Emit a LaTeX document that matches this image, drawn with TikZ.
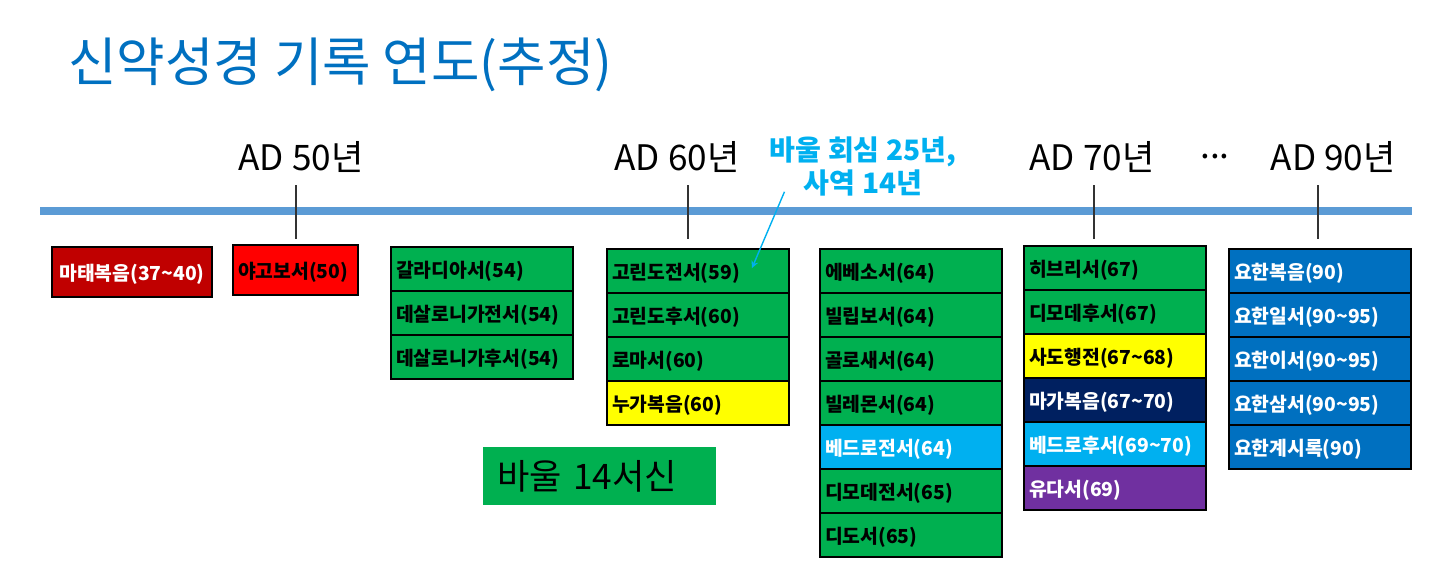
\documentclass[tikz,border=0pt]{standalone}
\usepackage{fontspec}
\setmainfont{Noto Sans CJK KR}
\usetikzlibrary{arrows}
\definecolor{titleblue}{HTML}{0070C0}
\definecolor{barblue}{HTML}{5B9BD5}
\definecolor{darkred}{HTML}{C00000}
\definecolor{brightred}{HTML}{FF0000}
\definecolor{paulgreen}{HTML}{00B050}
\definecolor{lukeyellow}{HTML}{FFFF00}
\definecolor{sky}{HTML}{00B0F0}
\definecolor{navy}{HTML}{002060}
\definecolor{judepurple}{HTML}{7030A0}
\definecolor{johnblue}{HTML}{0070C0}
\tikzstyle{book} = [
    rectangle,
    draw=black,
    line width=1pt,
    outer sep=0pt,
    minimum height=0.88cm,
    text width=3.44cm,
    text depth=0pt,
    inner xsep=0.1cm,
    align=left,
    font=\fontsize{11}{13}\selectfont\bfseries
]
\tikzstyle{greenbook} = [book, fill=paulgreen]
\tikzstyle{yellowbook} = [book, fill=lukeyellow]
\tikzstyle{skybook} = [book, fill=sky, text=white]
\tikzstyle{navybook} = [book, fill=navy, text=white]
\tikzstyle{purplebook} = [book, fill=judepurple, text=white]
\tikzstyle{johnbook} = [book, fill=johnblue, text=white]
\tikzstyle{year} = [font=\fontsize{20}{24}\selectfont]
\tikzstyle{pointer} = [draw=sky, line width=0.8pt, ->, >=stealth]

\begin{document}
\begin{tikzpicture}[node distance=0.88cm]
\useasboundingbox (0,0) rectangle (28.72,-11.48);

\node (title) [anchor=west, inner sep=0pt, text=titleblue,
  font=\fontsize{30}{36}\selectfont] at (1.36,-1.30)
{신약성경 기록 연도(추정)};

% timeline
\draw [barblue, line width=4.5pt] (0.8,-4.22) -- (28.24,-4.22);
\foreach \x in {5.92,13.76,21.88,26.36}
  \draw [black!80, line width=0.6pt] (\x,-3.70) -- (\x,-4.78);

\node (ad50) [year] at (6.02,-3.14) {AD 50년};
\node (ad60) [year] at (13.54,-3.14) {AD 60년};
\node (ad70) [year] at (21.84,-3.14) {AD 70년};
\node (dots) [year] at (24.30,-3.14) {...};
\node (ad90) [year] at (26.66,-3.14) {AD 90년};

\node (note) [inner sep=0pt, align=center, text=sky,
  font=\fontsize{16}{19}\selectfont\bfseries] at (17.26,-3.33)
{바울 회심 25년,\\사역 14년};

% before 50
\node (matt) [book, fill=darkred, text=white, anchor=north west,
  minimum height=1.0cm, text width=3.0cm, align=center] at (1.04,-4.94)
{마태복음(37\textasciitilde40)};
\node (jas) [book, fill=brightred, anchor=north west,
  minimum height=1.0cm, text width=2.3cm] at (4.66,-4.90)
{야고보서(50)};

% 54
\node (gal) [greenbook, anchor=north west] at (7.82,-4.94) {갈라디아서(54)};
\node (thes1) [greenbook, below of=gal] {데살로니가전서(54)};
\node (thes2) [greenbook, below of=thes1] {데살로니가후서(54)};

% 59 - 60
\node (cor1) [greenbook, anchor=north west] at (12.14,-4.98) {고린도전서(59)};
\node (cor2) [greenbook, below of=cor1] {고린도후서(60)};
\node (rom) [greenbook, below of=cor2] {로마서(60)};
\node (luke) [yellowbook, below of=rom] {누가복음(60)};

% 64 - 65
\node (eph) [greenbook, anchor=north west] at (16.40,-4.98) {에베소서(64)};
\node (phil) [greenbook, below of=eph] {빌립보서(64)};
\node (col) [greenbook, below of=phil] {골로새서(64)};
\node (phlm) [greenbook, below of=col] {빌레몬서(64)};
\node (pet1) [skybook, below of=phlm] {베드로전서(64)};
\node (tim1) [greenbook, below of=pet1] {디모데전서(65)};
\node (tit) [greenbook, below of=tim1] {디도서(65)};

% 67 - 70
\node (heb) [greenbook, anchor=north west] at (20.48,-4.92) {히브리서(67)};
\node (tim2) [greenbook, below of=heb] {디모데후서(67)};
\node (acts) [yellowbook, below of=tim2] {사도행전(67\textasciitilde68)};
\node (mark) [navybook, below of=acts] {마가복음(67\textasciitilde70)};
\node (pet2) [skybook, below of=mark] {베드로후서(69\textasciitilde70)};
\node (jude) [purplebook, below of=pet2] {유다서(69)};

% 90
\node (john) [johnbook, anchor=north west] at (24.58,-4.98) {요한복음(90)};
\node (john1) [johnbook, below of=john] {요한일서(90\textasciitilde95)};
\node (john2) [johnbook, below of=john1] {요한이서(90\textasciitilde95)};
\node (john3) [johnbook, below of=john2] {요한삼서(90\textasciitilde95)};
\node (rev) [johnbook, below of=john3] {요한계시록(90)};

\node (paul) [fill=paulgreen, minimum width=4.66cm, minimum height=1.16cm,
  text width=4.1cm, inner xsep=0.28cm,
  font=\fontsize{20}{24}\selectfont] at (11.99,-9.52) {바울 14서신};

\coordinate (tip) at (15.04,-5.36);
\draw [pointer] ([xshift=0.3cm,yshift=0.1cm]note.south west) -- (tip);

\end{tikzpicture}
\end{document}
